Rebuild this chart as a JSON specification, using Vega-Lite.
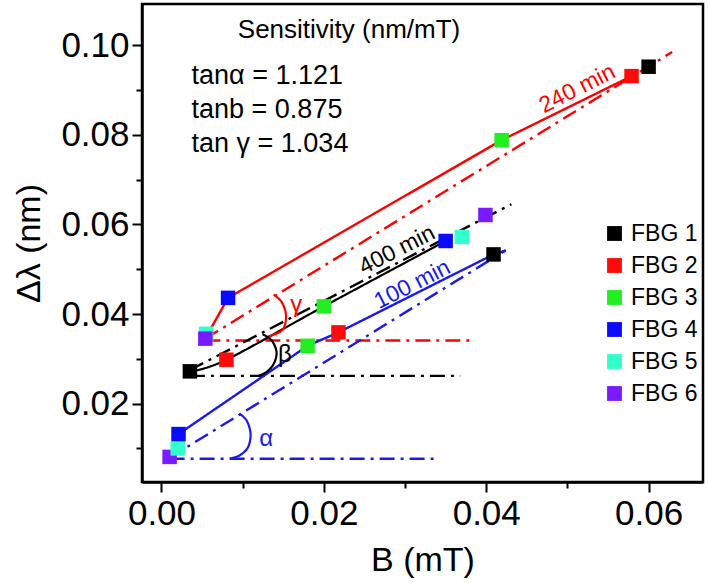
{
  "$schema": "https://vega.github.io/schema/vega-lite/v6.json",
  "width": 561,
  "height": 478,
  "autosize": {"type": "none"},
  "padding": {"left": 142, "top": 4, "right": 5, "bottom": 101},
  "background": "white",
  "config": {
    "view": {"stroke": "black", "strokeWidth": 2.5},
    "font": "Liberation Sans",
    "axis": {
      "grid": false,
      "domainColor": "black",
      "domainWidth": 2.5,
      "tickColor": "black",
      "tickWidth": 2,
      "labelColor": "black",
      "labelFont": "Liberation Sans",
      "labelFontSize": 35,
      "titleFont": "Liberation Sans",
      "titleFontSize": 34,
      "titleFontWeight": "normal",
      "titleColor": "black",
      "labelOverlap": false
    },
    "legend": {
      "labelFont": "Liberation Sans"
    }
  },
  "datasets": {
    "pts": [
      {"fbg": "FBG 5", "B": 0.0055, "dl": 0.0356},
      {"fbg": "FBG 6", "B": 0.0054, "dl": 0.0345},
      {"fbg": "FBG 4", "B": 0.0082, "dl": 0.0436},
      {"fbg": "FBG 3", "B": 0.0419, "dl": 0.0788},
      {"fbg": "FBG 2", "B": 0.0579, "dl": 0.0931},
      {"fbg": "FBG 1", "B": 0.0600, "dl": 0.0952},
      {"fbg": "FBG 1", "B": 0.0035, "dl": 0.0272},
      {"fbg": "FBG 2", "B": 0.0080, "dl": 0.0298},
      {"fbg": "FBG 3", "B": 0.0200, "dl": 0.0417},
      {"fbg": "FBG 4", "B": 0.0350, "dl": 0.0563},
      {"fbg": "FBG 5", "B": 0.0370, "dl": 0.0572},
      {"fbg": "FBG 6", "B": 0.0399, "dl": 0.0621},
      {"fbg": "FBG 6", "B": 0.0010, "dl": 0.0081},
      {"fbg": "FBG 5", "B": 0.0020, "dl": 0.0100},
      {"fbg": "FBG 4", "B": 0.0021, "dl": 0.0132},
      {"fbg": "FBG 3", "B": 0.0180, "dl": 0.0329},
      {"fbg": "FBG 2", "B": 0.0218, "dl": 0.0359},
      {"fbg": "FBG 1", "B": 0.0409, "dl": 0.0533}
    ],
    "seg": [
      {"grp": "240 min", "kind": "data", "i": 1, "B": 0.0056, "dl": 0.0352},
      {"grp": "240 min", "kind": "data", "i": 2, "B": 0.0082, "dl": 0.0436},
      {"grp": "240 min", "kind": "data", "i": 3, "B": 0.0419, "dl": 0.0788},
      {"grp": "240 min", "kind": "data", "i": 4, "B": 0.0579, "dl": 0.0931},
      {"grp": "240 min", "kind": "fit", "i": 1, "B": 0.0054, "dl": 0.0345},
      {"grp": "240 min", "kind": "fit", "i": 2, "B": 0.0629, "dl": 0.0985},
      {"grp": "240 min", "kind": "base", "i": 1, "B": 0.0054, "dl": 0.0341},
      {"grp": "240 min", "kind": "base", "i": 2, "B": 0.0385, "dl": 0.0341},
      {"grp": "400 min", "kind": "fit", "i": 1, "B": 0.0035, "dl": 0.0275},
      {"grp": "400 min", "kind": "fit", "i": 2, "B": 0.0431, "dl": 0.0645},
      {"grp": "400 min", "kind": "base", "i": 1, "B": 0.0035, "dl": 0.0262},
      {"grp": "400 min", "kind": "base", "i": 2, "B": 0.0368, "dl": 0.0262},
      {"grp": "100 min", "kind": "data", "i": 1, "B": 0.0021, "dl": 0.0132},
      {"grp": "100 min", "kind": "data", "i": 2, "B": 0.0180, "dl": 0.0329},
      {"grp": "100 min", "kind": "data", "i": 3, "B": 0.0218, "dl": 0.0359},
      {"grp": "100 min", "kind": "data", "i": 4, "B": 0.0409, "dl": 0.0533},
      {"grp": "100 min", "kind": "data", "i": 5, "B": 0.0424, "dl": 0.0542},
      {"grp": "100 min", "kind": "fit", "i": 1, "B": 0.0010, "dl": 0.0079},
      {"grp": "100 min", "kind": "fit", "i": 2, "B": 0.0424, "dl": 0.0542},
      {"grp": "100 min", "kind": "base", "i": 1, "B": 0.0010, "dl": 0.0077},
      {"grp": "100 min", "kind": "base", "i": 2, "B": 0.0338, "dl": 0.0077}
    ],
    "curv": [
      {"grp": "400 min", "kind": "data", "i": 1, "B": 0.0035, "dl": 0.0272},
      {"grp": "400 min", "kind": "data", "i": 2, "B": 0.0080, "dl": 0.0298},
      {"grp": "400 min", "kind": "data", "i": 3, "B": 0.0200, "dl": 0.0417},
      {"grp": "400 min", "kind": "data", "i": 4, "B": 0.0350, "dl": 0.0563},
      {"grp": "240 min", "kind": "arc", "i": 1, "B": 0.01384, "dl": 0.04434},
      {"grp": "240 min", "kind": "arc", "i": 2, "B": 0.01479, "dl": 0.04269},
      {"grp": "240 min", "kind": "arc", "i": 3, "B": 0.01532, "dl": 0.04010},
      {"grp": "240 min", "kind": "arc", "i": 4, "B": 0.01519, "dl": 0.03749},
      {"grp": "240 min", "kind": "arc", "i": 5, "B": 0.01458, "dl": 0.03599},
      {"grp": "240 min", "kind": "arc", "i": 6, "B": 0.01294, "dl": 0.03487},
      {"grp": "400 min", "kind": "arc", "i": 1, "B": 0.01245, "dl": 0.03548},
      {"grp": "400 min", "kind": "arc", "i": 2, "B": 0.01356, "dl": 0.03414},
      {"grp": "400 min", "kind": "arc", "i": 3, "B": 0.01417, "dl": 0.03152},
      {"grp": "400 min", "kind": "arc", "i": 4, "B": 0.01384, "dl": 0.02893},
      {"grp": "400 min", "kind": "arc", "i": 5, "B": 0.01294, "dl": 0.02706},
      {"grp": "400 min", "kind": "arc", "i": 6, "B": 0.01190, "dl": 0.02617},
      {"grp": "100 min", "kind": "arc", "i": 1, "B": 0.00956, "dl": 0.01777},
      {"grp": "100 min", "kind": "arc", "i": 2, "B": 0.01047, "dl": 0.01628},
      {"grp": "100 min", "kind": "arc", "i": 3, "B": 0.01097, "dl": 0.01331},
      {"grp": "100 min", "kind": "arc", "i": 4, "B": 0.01067, "dl": 0.01032},
      {"grp": "100 min", "kind": "arc", "i": 5, "B": 0.00965, "dl": 0.00846},
      {"grp": "100 min", "kind": "arc", "i": 6, "B": 0.00842, "dl": 0.00773}
    ],
    "notes": [
      {"label": "Sensitivity (nm/mT)", "B": 0.0231, "dl": 0.1033}
    ],
    "tans": [
      {"label": "tanα = 1.121", "B": 0.0037, "dl": 0.0931},
      {"label": "tanb = 0.875", "B": 0.0037, "dl": 0.0855},
      {"label": "tan γ = 1.034", "B": 0.0037, "dl": 0.0779}
    ],
    "mins": [
      {"label": "240 min", "grp": "240 min", "B": 0.0512, "dl": 0.0903},
      {"label": "400 min", "grp": "400 min", "B": 0.0290, "dl": 0.0543},
      {"label": "100 min", "grp": "100 min", "B": 0.0309, "dl": 0.0466}
    ],
    "greek": [
      {"label": "γ", "grp": "240 min", "B": 0.0166, "dl": 0.0420},
      {"label": "β", "grp": "400 min", "B": 0.0152, "dl": 0.0308},
      {"label": "α", "grp": "100 min", "B": 0.0129, "dl": 0.0122}
    ]
  },
  "encoding": {
    "x": {
      "field": "B",
      "type": "quantitative",
      "scale": {"domain": [-0.0024, 0.0667], "nice": false, "zero": false},
      "axis": {
        "title": "B (mT)",
        "values": [0, 0.01, 0.02, 0.03, 0.04, 0.05, 0.06],
        "labelExpr": "round(datum.value*100)%2==0 ? format(datum.value,'.2f') : ''",
        "tickSize": {"condition": {"test": "round(datum.value*100)%2==0", "value": 10}, "value": 6},
        "labelPadding": 4,
        "titlePadding": 12
      }
    },
    "y": {
      "field": "dl",
      "type": "quantitative",
      "scale": {"domain": [0.0025, 0.1092], "nice": false, "zero": false},
      "axis": {
        "title": "Δλ (nm)",
        "values": [0.01, 0.02, 0.03, 0.04, 0.05, 0.06, 0.07, 0.08, 0.09, 0.10],
        "labelExpr": "round(datum.value*100)%2==0 ? format(datum.value,'.2f') : ''",
        "tickSize": {"condition": {"test": "round(datum.value*100)%2==0", "value": 10}, "value": 6},
        "labelPadding": 3,
        "titlePadding": 14
      }
    }
  },
  "layer": [
    {
      "data": {"name": "seg"},
      "mark": {"type": "line", "strokeWidth": 2.4, "interpolate": "linear"},
      "encoding": {
        "color": {"field": "grp", "type": "nominal", "scale": {"domain": ["240 min", "400 min", "100 min"], "range": ["#ff0000", "#000000", "#1a1aee"]}, "legend": null},
        "strokeDash": {"field": "kind", "type": "nominal", "scale": {"domain": ["data", "fit", "base", "arc"], "range": [[1, 0], [15, 6, 3, 6], [15, 6, 3, 6], [1, 0]]}, "legend": null},
        "order": {"field": "i", "type": "quantitative"}
      }
    },
    {
      "data": {"name": "curv"},
      "mark": {"type": "line", "strokeWidth": 2.2, "interpolate": "cardinal"},
      "encoding": {
        "color": {"field": "grp", "type": "nominal", "legend": null},
        "strokeDash": {"field": "kind", "type": "nominal", "legend": null},
        "order": {"field": "i", "type": "quantitative"}
      }
    },
    {
      "data": {"name": "pts"},
      "mark": {"type": "point", "shape": "square", "filled": true, "size": 210, "opacity": 1},
      "encoding": {
        "fill": {
          "field": "fbg", "type": "nominal",
          "scale": {"domain": ["FBG 1", "FBG 2", "FBG 3", "FBG 4", "FBG 5", "FBG 6"], "range": ["#000000", "#ff0a0a", "#22ee22", "#0a0aff", "#33ffcc", "#7a1aff"]},
          "legend": {
            "title": null,
            "orient": "none",
            "legendX": 461,
            "legendY": 218,
            "symbolType": "square",
            "symbolSize": 220,
            "symbolStrokeWidth": 0,
            "labelFontSize": 23,
            "labelColor": "black",
            "labelOffset": 5,
            "rowPadding": 8
          }
        }
      }
    },
    {
      "data": {"name": "notes"},
      "mark": {"type": "text", "fontSize": 26, "align": "center", "baseline": "middle", "color": "black"},
      "encoding": {"text": {"field": "label"}}
    },
    {
      "data": {"name": "tans"},
      "mark": {"type": "text", "fontSize": 27, "align": "left", "baseline": "middle", "color": "black"},
      "encoding": {"text": {"field": "label"}}
    },
    {
      "data": {"name": "mins"},
      "mark": {"type": "text", "fontSize": 23, "align": "center", "baseline": "middle", "angle": -27},
      "encoding": {
        "text": {"field": "label"},
        "color": {"field": "grp", "type": "nominal", "legend": null}
      }
    },
    {
      "data": {"name": "greek"},
      "mark": {"type": "text", "fontSize": 24, "align": "center", "baseline": "middle"},
      "encoding": {
        "text": {"field": "label"},
        "color": {"field": "grp", "type": "nominal", "legend": null}
      }
    }
  ]
}
